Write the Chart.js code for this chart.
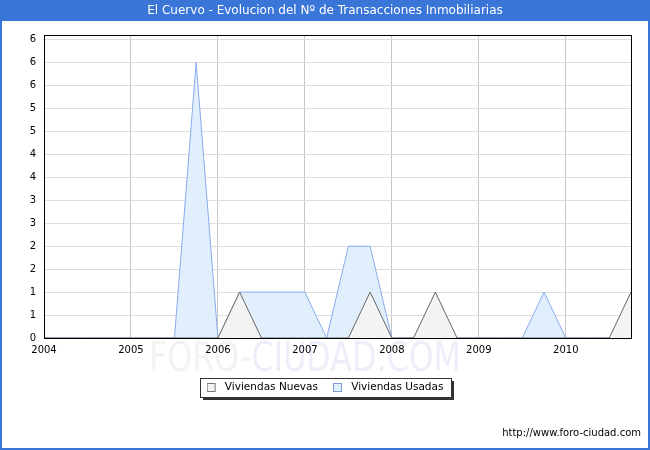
<!DOCTYPE html>
<html>
<head>
<meta charset="utf-8">
<script src="https://cdn.jsdelivr.net/npm/chart.js@4/dist/chart.umd.min.js"></script>
<style>
  html, body { margin: 0; padding: 0; background: #fff; }
  #wrap { width: 650px; height: 450px; position: relative; }
</style>
</head>
<body>
<div id="wrap"><canvas id="chart"></canvas></div>
<script>
const quarters = [
  '2004 T1', '2004 T2', '2004 T3', '2004 T4',
  '2005 T1', '2005 T2', '2005 T3', '2005 T4',
  '2006 T1', '2006 T2', '2006 T3', '2006 T4',
  '2007 T1', '2007 T2', '2007 T3', '2007 T4',
  '2008 T1', '2008 T2', '2008 T3', '2008 T4',
  '2009 T1', '2009 T2', '2009 T3', '2009 T4',
  '2010 T1', '2010 T2', '2010 T3', '2010 T4'
]
const yearLabels = ['2004', '2005', '2006', '2007', '2008', '2009', '2010']
const nuevas = [0, 0, 0, 0, 0, 0, 0, 0, 0, 1, 0, 0, 0, 0, 0, 1, 0, 0, 1, 0, 0, 0, 0, 0, 0, 0, 0, 1]
const usadas = [0, 0, 0, 0, 0, 0, 0, 6, 0, 1, 1, 1, 1, 0, 2, 2, 0, 0, 0, 0, 0, 0, 0, 1, 0, 0, 0, 0]
// y tick labels as printed on the original (half steps, rounded)
const yTickLabels = ['0', '1', '1', '2', '2', '3', '3', '4', '4', '5', '5', '6', '6', '6']

const FONT = '"DejaVu Sans", Verdana, sans-serif'

// small legend swatch: square at the left of a wider transparent box
function swatch(fill, stroke) {
  const c = document.createElement('canvas')
  c.width = 13
  c.height = 9
  const g = c.getContext('2d')
  g.fillStyle = fill
  g.fillRect(0.5, 0.5, 8, 8)
  g.strokeStyle = stroke
  g.lineWidth = 1
  g.strokeRect(0.5, 0.5, 8, 8)
  return c
}

const decor = {
  id: 'decor',
  beforeDraw(chart) {
    const ctx = chart.ctx
    const w = chart.width
    ctx.save()
    ctx.fillStyle = '#ffffff'
    ctx.fillRect(0, 0, w, chart.height)
    // title bar
    ctx.fillStyle = '#3a75d8'
    ctx.fillRect(0, 0, w, 21)

    // watermark
    ctx.font = '40px ' + FONT
    ctx.textBaseline = 'alphabetic'
    const a = 'FORO-', b = 'CIUDAD.COM'
    const wa = ctx.measureText(a).width, wb = ctx.measureText(b).width
    const sx = 312 / (wa + wb)
    ctx.translate(149, 371)
    ctx.scale(sx, 1)
    ctx.fillStyle = '#f3f3f3'
    ctx.fillText(a, 0, 0)
    ctx.fillStyle = '#eeeefa'
    ctx.fillText(b, wa, 0)
    ctx.restore()

    // legend frame with shadow
    const boxes = chart.legend && chart.legend.legendHitBoxes
    if (boxes && boxes.length) {
      const first = boxes[0], last = boxes[boxes.length - 1]
      const x0 = Math.round(first.left - 7), x1 = Math.round(last.left + last.width + 8)
      const y0 = Math.round(first.top - 4), y1 = Math.round(first.top + first.height + 4)
      ctx.save()
      ctx.fillStyle = '#333333'
      ctx.fillRect(x0 + 3, y0 + 3, x1 - x0, y1 - y0)
      ctx.fillStyle = '#ffffff'
      ctx.fillRect(x0, y0, x1 - x0, y1 - y0)
      ctx.strokeStyle = '#333333'
      ctx.lineWidth = 1
      ctx.strokeRect(x0 + 0.5, y0 + 0.5, x1 - x0, y1 - y0)
      ctx.restore()
    }
  },
  afterDatasetsDraw(chart) {
    const {ctx, chartArea: ca} = chart
    ctx.save()
    ctx.strokeStyle = '#000000'
    ctx.lineWidth = 1
    ctx.strokeRect(Math.round(ca.left) + 0.5, Math.round(ca.top) + 0.5,
      Math.round(ca.right - ca.left), Math.round(ca.bottom - ca.top))
    ctx.restore()
  },
  afterDraw(chart) {
    const ctx = chart.ctx
    ctx.save()
    ctx.font = '10px ' + FONT
    ctx.fillStyle = '#000000'
    ctx.textAlign = 'right'
    ctx.textBaseline = 'middle'
    ctx.fillText('http://www.foro-ciudad.com', 641, 433)
    ctx.strokeStyle = '#3a75d8'
    ctx.lineWidth = 2
    ctx.strokeRect(1, 1, chart.width - 2, chart.height - 2)
    ctx.restore()
  }
}

new Chart(document.getElementById('chart'), {
  type: 'line',
  data: {
    labels: quarters,
    datasets: [
      {
        label: 'Viviendas Nuevas',
        data: nuevas,
        borderColor: '#666666',
        backgroundColor: '#f3f3f3',
        borderWidth: 1,
        fill: 'origin',
        pointRadius: 0,
        tension: 0
      },
      {
        label: 'Viviendas Usadas',
        data: usadas,
        borderColor: '#8aabeb',
        backgroundColor: '#e1effd',
        borderWidth: 1,
        fill: 'origin',
        pointRadius: 0,
        tension: 0
      }
    ]
  },
  options: {
    responsive: true,
    maintainAspectRatio: false,
    animation: false,
    devicePixelRatio: 1,
    layout: { padding: { top: 0, left: 0, right: 0, bottom: 47.25 } },
    scales: {
      x: {
        offset: false,
        grid: {
          drawTicks: false,
          color: c => (c.index % 4 === 0 ? '#c8c8c8' : 'rgba(0,0,0,0)')
        },
        border: { color: '#000000' },
        ticks: {
          autoSkip: false,
          maxRotation: 0,
          padding: 6,
          color: '#000000',
          font: { family: FONT, size: 10 },
          callback: (v, i) => (i % 4 === 0 ? yearLabels[i / 4] : '')
        },
        afterFit: s => { s.height = 29.25 }
      },
      y: {
        min: 0,
        max: 6.6,
        grid: { drawTicks: false, color: '#dddddd' },
        border: { color: '#000000' },
        ticks: {
          padding: 8,
          color: '#000000',
          font: { family: FONT, size: 10 },
          callback: v => yTickLabels[Math.round(v * 2)]
        },
        afterBuildTicks: s => {
          s.ticks = yTickLabels.map((t, i) => ({ value: i * 0.5 }))
        },
        afterFit: s => { s.width = 44 }
      },
      // empty right gutter so the plot stops short of the right edge
      gutter: {
        position: 'right',
        display: true,
        grid: { display: false },
        border: { display: false },
        ticks: { display: false },
        afterFit: s => { s.width = 19 }
      }
    },
    plugins: {
      legend: {
        display: true,
        position: 'bottom',
        labels: {
          usePointStyle: true,
          pointStyleWidth: 13,
          boxHeight: 9,
          padding: 15,
          color: '#000000',
          font: { family: FONT, size: 10.5 },
          generateLabels: chart => Chart.defaults.plugins.legend.labels.generateLabels(chart).map(item => {
            const ds = chart.data.datasets[item.datasetIndex]
            item.pointStyle = swatch(ds.backgroundColor, item.datasetIndex === 0 ? '#777777' : '#7b9ad6')
            return item
          })
        }
      },
      title: {
        display: true,
        text: 'El Cuervo - Evolucion del Nº de Transacciones Inmobiliarias',
        color: '#ffffff',
        font: { family: FONT, size: 12, weight: 'normal' },
        padding: { top: 3.3, bottom: 17.3 }
      },
      tooltip: { enabled: false }
    }
  },
  plugins: [decor]
})
</script>
</body>
</html>
